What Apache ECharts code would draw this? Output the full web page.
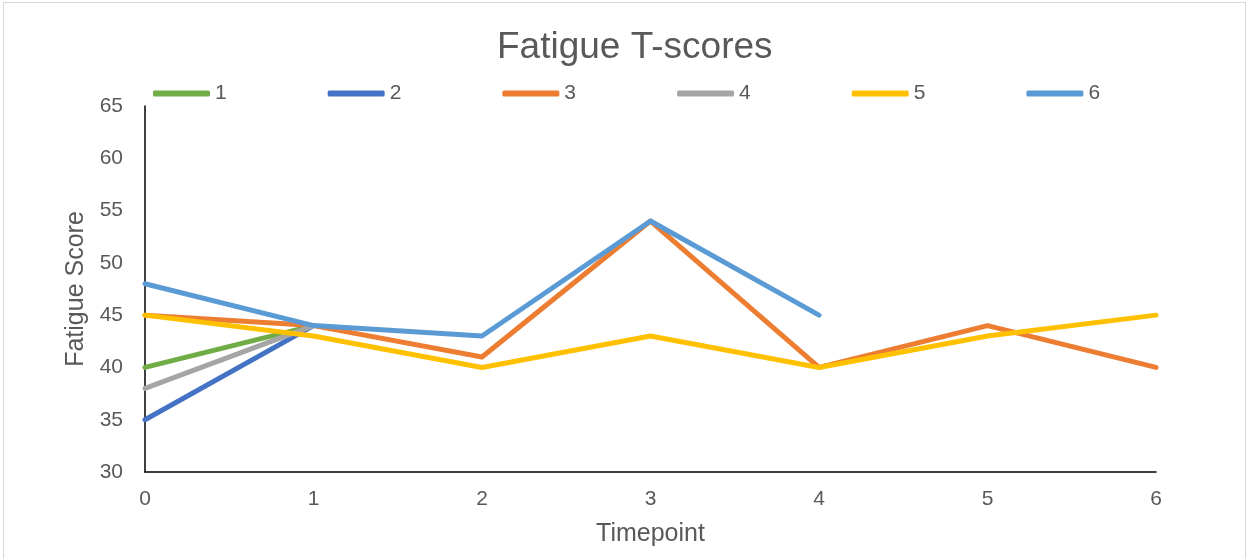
<!DOCTYPE html>
<html>
<head>
<meta charset="utf-8">
<script src="https://cdn.jsdelivr.net/npm/echarts@6/dist/echarts.min.js"></script>
<style>
  html, body { margin: 0; padding: 0; background: #fff; }
  #frame { position: absolute; left: 3px; top: 2px; width: 1243px; height: 570px; border: 1px solid #d9d9d9; box-sizing: border-box; }
  #chart { position: absolute; left: 0; top: 0; width: 1250px; height: 559px; }
</style>
</head>
<body>
<div id="frame"></div>
<div id="chart"></div>
<script>
// Timepoints along the x axis
const timepoints = [0, 1, 2, 3, 4, 5, 6];

// Fatigue T-scores per participant (null = not measured)
const p1 = [40, 44, null, null, null, null, null];
const p2 = [35, 44, null, null, null, null, null];
const p3 = [45, 44, 41, 54, 40, 44, 40];
const p4 = [38, 44, null, null, null, null, null];
const p5 = [45, 43, 40, 43, 40, 43, 45];
const p6 = [48, 44, 43, 54, 45, null, null];

const seriesNames = ['1', '2', '3', '4', '5', '6'];
const seriesData = [p1, p2, p3, p4, p5, p6];
const colors = ['#70AD47', '#4472C4', '#ED7D31', '#A5A5A5', '#FFC000', '#5B9BD5'];

const textColor = '#595959';
const font = 'Liberation Sans, Arial, sans-serif';

const chart = echarts.init(document.getElementById('chart'));
chart.setOption({
  animation: false,
  color: colors,
  textStyle: { fontFamily: font },
  title: {
    text: 'Fatigue T-scores',
    left: 492,
    top: 24,
    textStyle: { fontSize: 37, fontWeight: 'normal', color: textColor, fontFamily: font }
  },
  legend: {
    left: 148,
    top: 78,
    itemWidth: 57,
    itemHeight: 6,
    itemGap: 101,
    icon: 'roundRect',
    textStyle: { fontSize: 21, color: textColor },
    data: seriesNames
  },
  grid: { left: 145, right: 94, top: 106, bottom: 87, containLabel: false },
  xAxis: {
    type: 'value',
    min: 0,
    max: 6,
    interval: 1,
    name: 'Timepoint',
    nameLocation: 'middle',
    nameGap: 50,
    nameTextStyle: { fontSize: 25, color: textColor },
    axisLine: { lineStyle: { color: '#000', width: 1.5 } },
    axisTick: { show: false },
    splitLine: { show: false },
    axisLabel: { fontSize: 21, color: textColor, margin: 17 }
  },
  yAxis: {
    type: 'value',
    min: 30,
    max: 65,
    interval: 5,
    name: 'Fatigue Score',
    nameLocation: 'middle',
    nameGap: 53,
    nameTextStyle: { fontSize: 25, color: textColor },
    axisLine: { show: true, lineStyle: { color: '#000', width: 1.5 } },
    axisTick: { show: false },
    splitLine: { show: false },
    axisLabel: { fontSize: 21, color: textColor, margin: 22 }
  },
  series: seriesNames.map((name, i) => ({
    name: name,
    type: 'line',
    data: timepoints.map((t, j) => [t, seriesData[i][j]]),
    showSymbol: false,
    symbol: 'none',
    connectNulls: false,
    lineStyle: { width: 5, cap: 'round', join: 'round' }
  }))
});
</script>
</body>
</html>
